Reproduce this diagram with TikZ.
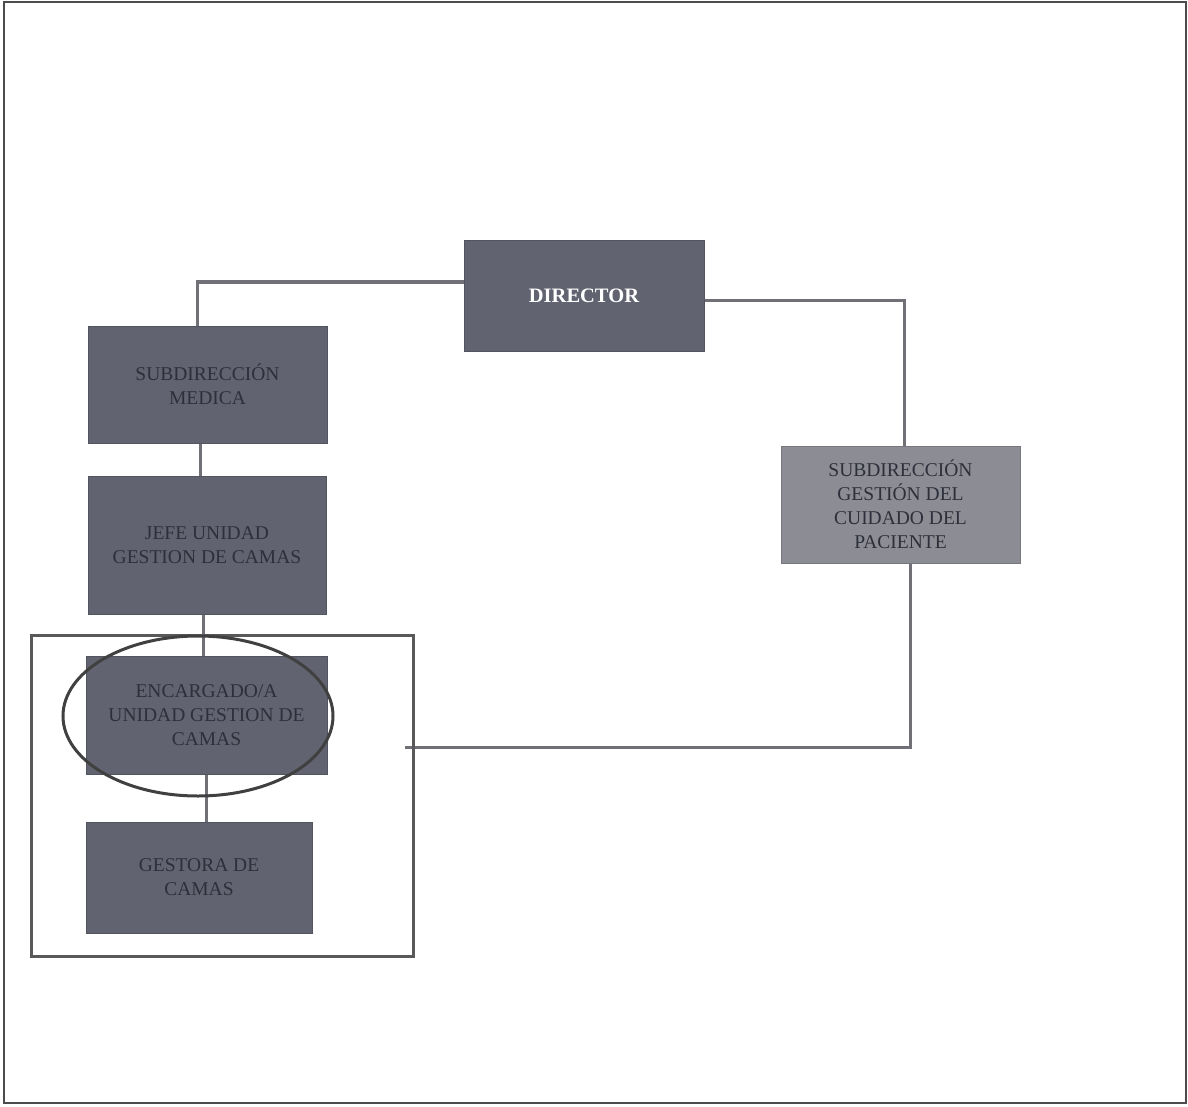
\documentclass[tikz,border=0pt]{standalone}
\usepackage{fontspec}
\setmainfont{Liberation Serif}
\usetikzlibrary{shapes.geometric}
\pgfdeclarelayer{bg}
\pgfsetlayers{bg,main}
\definecolor{boxdark}{RGB}{97,99,112}
\definecolor{boxlight}{RGB}{140,140,148}
\definecolor{txtdark}{RGB}{45,47,58}
\definecolor{linegray}{RGB}{112,112,118}
\tikzset{
  orgbox/.style={draw=boxdark!85!black, line width=1pt, fill=boxdark, text=txtdark,
    align=center, inner sep=0pt, font=\fontsize{19.5}{24}\selectfont},
  conn/.style={draw=linegray, line width=3pt},
}
\begin{document}
\begin{tikzpicture}[x=1pt,y=-1pt]
\useasboundingbox (0,0) rectangle (1188,1107);
\draw[line width=1.5pt, draw=black!70] (4,2) rectangle (1186,1103);

\node[orgbox, minimum width=240pt, minimum height=110pt, text=white, font=\bfseries\fontsize{20.5}{24}\selectfont] (dir) at (584,296) {DIRECTOR};
\node[orgbox, minimum width=239pt, minimum height=117pt] (sm) at (207.5,384.5) {SUBDIRECCIÓN\\MEDICA};
\node[orgbox, minimum width=238pt, minimum height=138pt] (jefe) at (207,545) {JEFE UNIDAD\\GESTION DE CAMAS};
\node[orgbox, minimum width=241pt, minimum height=118pt] (enc) at (206.5,715) {ENCARGADO/A\\UNIDAD GESTION DE\\CAMAS};
\node[orgbox, minimum width=226pt, minimum height=111pt] (gest) at (199,877.5) {GESTORA DE\\CAMAS};
\node[orgbox, fill=boxlight, draw=boxlight!85!black, minimum width=239pt, minimum height=117pt] (sc) at (900.5,504.5) {SUBDIRECCIÓN\\GESTIÓN DEL\\CUIDADO DEL\\PACIENTE};

\coordinate (endline) at (405,747);

\begin{pgfonlayer}{bg}
\draw[conn] ([yshift=14pt]dir.west) -| ([xshift=-10pt]sm.north);
\draw[conn] ([yshift=-4pt]dir.east) -| ([xshift=4pt]sc.north);
\draw[conn] ([xshift=10pt]sc.south) |- (endline);
\draw[conn] ([xshift=-7pt]sm.south) -- ([xshift=-7pt]sm.south |- jefe.north);
\draw[conn] ([xshift=-4pt]jefe.south) -- ([xshift=-4pt]jefe.south |- enc.north);
\draw[conn] (enc.south) -- (enc.south |- gest.north);
\end{pgfonlayer}

\node[draw=black!65, line width=3pt, minimum width=382pt, minimum height=321pt, inner sep=0pt] (lasso) at (222,795.5) {};
\node[draw=black!75, line width=3pt, ellipse, minimum width=270pt, minimum height=160pt, inner sep=0pt] (circ) at (198,716) {};
\end{tikzpicture}
\end{document}
